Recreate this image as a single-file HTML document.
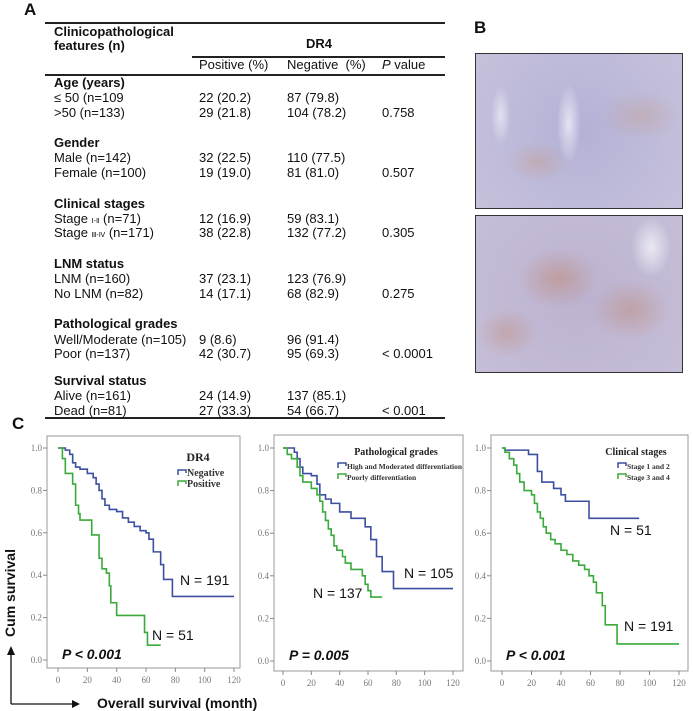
<!DOCTYPE html>
<html><head><meta charset="utf-8">
<style>
html,body{margin:0;padding:0;background:#fff;}
body{width:693px;height:711px;position:relative;overflow:hidden;font-family:"Liberation Sans",Arial,sans-serif;color:#111;}
.t{position:absolute;font-size:13px;line-height:14px;white-space:nowrap;transform:translateY(-7px);}
.b{font-weight:bold;}
.hl{position:absolute;height:2px;background:#222;}
.pl{position:absolute;font-weight:bold;font-size:17px;}
.img{position:absolute;border:1.5px solid #333;box-sizing:border-box;}
</style></head><body>
<div class="pl" style="left:24px;top:0px">A</div>
<div class="pl" style="left:474px;top:18px">B</div>
<div class="pl" style="left:12px;top:414px">C</div>

<div>
<div class="hl" style="left:45px;top:22px;width:400px"></div>
<div class="hl" style="left:192px;top:56px;width:253px"></div>
<div class="hl" style="left:45px;top:74px;width:400px"></div>
<div class="hl" style="left:45px;top:417px;width:400px"></div>
<div class="t b" style="left:54px;top:32px">Clinicopathological</div>
<div class="t b" style="left:54px;top:46px">features (n)</div>
<div class="t b" style="left:306px;top:44px">DR4</div>
<div class="t" style="left:199px;top:65px">Positive (%)</div>
<div class="t" style="left:287px;top:65px">Negative&nbsp; (%)</div>
<div class="t" style="left:382px;top:65px"><i>P</i> value</div>

<div class="t b" style="left:54px;top:83px">Age (years)</div>
<div class="t" style="left:54px;top:98px">≤ 50 (n=109</div><div class="t" style="left:199px;top:98px">22 (20.2)</div><div class="t" style="left:287px;top:98px">87 (79.8)</div>
<div class="t" style="left:54px;top:113px">&gt;50 (n=133)</div><div class="t" style="left:199px;top:113px">29 (21.8)</div><div class="t" style="left:287px;top:113px">104 (78.2)</div><div class="t" style="left:382px;top:113px">0.758</div>

<div class="t b" style="left:54px;top:143px">Gender</div>
<div class="t" style="left:54px;top:158px">Male (n=142)</div><div class="t" style="left:199px;top:158px">32 (22.5)</div><div class="t" style="left:287px;top:158px">110 (77.5)</div>
<div class="t" style="left:54px;top:173px">Female (n=100)</div><div class="t" style="left:199px;top:173px">19 (19.0)</div><div class="t" style="left:287px;top:173px">81 (81.0)</div><div class="t" style="left:382px;top:173px">0.507</div>

<div class="t b" style="left:54px;top:204px">Clinical stages</div>
<div class="t" style="left:54px;top:219px">Stage <span style="font-size:7px">Ⅰ-Ⅱ</span> (n=71)</div><div class="t" style="left:199px;top:219px">12 (16.9)</div><div class="t" style="left:287px;top:219px">59 (83.1)</div>
<div class="t" style="left:54px;top:233px">Stage <span style="font-size:7px">Ⅲ-Ⅳ</span> (n=171)</div><div class="t" style="left:199px;top:233px">38 (22.8)</div><div class="t" style="left:287px;top:233px">132 (77.2)</div><div class="t" style="left:382px;top:233px">0.305</div>

<div class="t b" style="left:54px;top:264px">LNM status</div>
<div class="t" style="left:54px;top:279px">LNM (n=160)</div><div class="t" style="left:199px;top:279px">37 (23.1)</div><div class="t" style="left:287px;top:279px">123 (76.9)</div>
<div class="t" style="left:54px;top:294px">No LNM (n=82)</div><div class="t" style="left:199px;top:294px">14 (17.1)</div><div class="t" style="left:287px;top:294px">68 (82.9)</div><div class="t" style="left:382px;top:294px">0.275</div>

<div class="t b" style="left:54px;top:324px">Pathological grades</div>
<div class="t" style="left:54px;top:340px">Well/Moderate (n=105)</div><div class="t" style="left:199px;top:340px">9 (8.6)</div><div class="t" style="left:287px;top:340px">96 (91.4)</div>
<div class="t" style="left:54px;top:354px">Poor (n=137)</div><div class="t" style="left:199px;top:354px">42 (30.7)</div><div class="t" style="left:287px;top:354px">95 (69.3)</div><div class="t" style="left:382px;top:354px">&lt; 0.0001</div>

<div class="t b" style="left:54px;top:381px">Survival status</div>
<div class="t" style="left:54px;top:396px">Alive (n=161)</div><div class="t" style="left:199px;top:396px">24 (14.9)</div><div class="t" style="left:287px;top:396px">137 (85.1)</div>
<div class="t" style="left:54px;top:411px">Dead (n=81)</div><div class="t" style="left:199px;top:411px">27 (33.3)</div><div class="t" style="left:287px;top:411px">54 (66.7)</div><div class="t" style="left:382px;top:411px">&lt; 0.001</div>
</div>

<div class="img" style="left:475px;top:53px;width:208px;height:156px;background:
radial-gradient(ellipse 30px 20px at 30% 70%,rgba(200,150,120,.35),transparent),
radial-gradient(ellipse 40px 25px at 80% 40%,rgba(200,150,120,.3),transparent),
radial-gradient(ellipse 12px 40px at 45% 45%,rgba(240,240,250,.8),transparent),
radial-gradient(ellipse 10px 30px at 12% 40%,rgba(240,240,250,.7),transparent),
radial-gradient(circle at 50% 50%,#b4b1d6,#c6c2dc);"></div>
<div class="img" style="left:475px;top:215px;width:208px;height:158px;background:
radial-gradient(ellipse 40px 30px at 40% 40%,rgba(190,130,100,.45),transparent),
radial-gradient(ellipse 40px 30px at 75% 60%,rgba(190,130,100,.4),transparent),
radial-gradient(ellipse 30px 25px at 15% 75%,rgba(190,130,100,.35),transparent),
radial-gradient(ellipse 20px 30px at 85% 20%,rgba(245,245,250,.8),transparent),
radial-gradient(circle at 50% 50%,#bcb2d0,#c6bed8);"></div>

<svg id="km" width="693" height="711" style="position:absolute;left:0;top:0"></svg>

<script>
// Chart 1: DR4
const c1NegT=[0,5,8,10,12,15,20,24,26,28,30,32,35,40,44,48,52,56,60,62,65,70,72,78,120];
const c1NegS=[1,0.99,0.97,0.93,0.91,0.90,0.88,0.86,0.83,0.80,0.76,0.73,0.71,0.70,0.67,0.65,0.63,0.61,0.60,0.57,0.51,0.45,0.38,0.30,0.30];
const c1PosT=[0,3,5,10,12,14,15,23,28,30,33,35,36,40,59,61,70];
const c1PosS=[1,0.95,0.88,0.83,0.73,0.69,0.66,0.59,0.48,0.43,0.41,0.35,0.27,0.21,0.13,0.07,0.07];
// Chart 2: Pathological grades
const c2HighT=[0,8,10,12,14,20,24,26,30,34,40,48,58,62,66,70,78,120];
const c2HighS=[1,0.98,0.95,0.91,0.88,0.87,0.83,0.78,0.76,0.74,0.70,0.67,0.63,0.57,0.49,0.42,0.34,0.34];
const c2PoorT=[0,3,6,10,12,14,20,24,26,28,30,32,34,36,38,42,44,48,56,58,60,62,70];
const c2PoorS=[1,0.97,0.95,0.91,0.87,0.84,0.81,0.78,0.75,0.70,0.66,0.62,0.59,0.54,0.52,0.49,0.46,0.43,0.40,0.36,0.33,0.30,0.30];
// Chart 3: Clinical stages
const c3EarlyT=[0,2,18,24,27,35,40,43,59,93];
const c3EarlyS=[1,0.99,0.97,0.89,0.84,0.81,0.78,0.75,0.67,0.67];
const c3LateT=[0,2,5,8,10,12,15,20,22,24,26,28,30,33,36,40,44,48,52,56,59,62,64,68,70,78,120];
const c3LateS=[1,0.98,0.95,0.92,0.88,0.84,0.80,0.78,0.74,0.70,0.67,0.63,0.60,0.57,0.55,0.52,0.50,0.47,0.45,0.43,0.40,0.37,0.32,0.26,0.17,0.08,0.08];
const xTicks=[0,20,40,60,80,100,120];
const yTicks=[0,0.2,0.4,0.6,0.8,1.0];

const svg=document.getElementById('km');
const NS='http://www.w3.org/2000/svg';
function el(tag,attrs,parent){const e=document.createElementNS(NS,tag);for(const k in attrs)e.setAttribute(k,attrs[k]);(parent||svg).appendChild(e);return e;}
function txt(s,attrs,parent){const e=el('text',attrs,parent);e.textContent=s;return e;}

function chart(cfg){
  const g=el('g',{});
  
  
  const sx=t=>cfg.x0+(cfg.x1-cfg.x0)*t/120;
  const sy=s=>cfg.y0+(cfg.y1-cfg.y0)*s;
  const box=el('rect',{x:cfg.bx,y:cfg.by,width:cfg.bw,height:cfg.bh,fill:'#fff',stroke:'#999','stroke-width':1},g);
  
  
  xTicks.forEach(t=>{
    el('line',{x1:sx(t),x2:sx(t),y1:cfg.by+cfg.bh,y2:cfg.by+cfg.bh+4,stroke:'#888'},g);
    const l=txt(t,{x:sx(t),y:cfg.by+cfg.bh+15,'font-size':9,'text-anchor':'middle',fill:'#777','font-family':'"Liberation Serif",serif'},g);
    
    
  });
  yTicks.forEach(v=>{
    el('line',{x1:cfg.bx-4,x2:cfg.bx,y1:sy(v),y2:sy(v),stroke:'#888'},g);
    const l=txt(v.toFixed(1),{x:cfg.bx-5,y:sy(v)+3,'font-size':9,'text-anchor':'end',fill:'#777','font-family':'"Liberation Serif",serif'},g);
    
    
  });
  cfg.series.forEach(s=>{
    let d='M'+sx(s.t[0])+','+sy(s.s[0]);
    for(let i=1;i<s.t.length;i++){d+=' H'+sx(s.t[i])+' V'+sy(s.s[i]);}
    const p=el('path',{d:d,fill:'none',stroke:s.color,'stroke-width':1.6},g);
    
    
    const n=txt(s.label,{x:s.lx,y:s.ly,'font-size':14,fill:'#111','font-family':'"Liberation Sans",sans-serif'},g);
    
    
  });
  const tt=txt(cfg.title,{x:cfg.tx,y:cfg.ty,'font-size':cfg.tfs,'font-weight':'bold','text-anchor':'middle',fill:'#222','font-family':'"Liberation Serif",serif'},g);
  
  
  cfg.series.forEach((s,i)=>{
    const y=cfg.ly+i*11;
    el('path',{d:`M${cfg.lx},${y+2} V${y-3} H${cfg.lx+8} V${y}`,fill:'none',stroke:s.color,'stroke-width':1.5},g);
    const l=txt(s.legend,{x:cfg.lx+9,y:y+3,'font-size':cfg.lfs,'font-weight':'bold',fill:'#333','font-family':'"Liberation Serif",serif'},g);
    
    
  });
  const p=txt(cfg.p,{x:cfg.bx+15,y:cfg.y0-1,'font-size':14,'font-weight':'bold','font-style':'italic',fill:'#111','font-family':'"Liberation Sans",sans-serif'},g);
  
  
}
const BLUE='#3c4fa0',GREEN='#3aaa3a';
chart({name:'chart-dr4',bx:47,by:436,bw:193,bh:232,x0:58,x1:234,y0:660,y1:448,title:'DR4',tx:198,ty:461,tfs:12,lx:178,ly:473,lfs:10,p:'P < 0.001',
  series:[{t:c1NegT,s:c1NegS,color:BLUE,name:'line-negative',legend:'Negative',label:'N = 191',lx:180,ly:585},
          {t:c1PosT,s:c1PosS,color:GREEN,name:'line-positive',legend:'Positive',label:'N = 51',lx:152,ly:640}]});
chart({name:'chart-pathological-grades',bx:274,by:435,bw:189,bh:236,x0:283,x1:453,y0:661,y1:448,title:'Pathological grades',tx:396,ty:455,tfs:10,lx:338,ly:466,lfs:7.5,p:'P = 0.005',
  series:[{t:c2HighT,s:c2HighS,color:BLUE,name:'line-high-moderate',legend:'High and Moderated differentiation',label:'N = 105',lx:404,ly:578},
          {t:c2PoorT,s:c2PoorS,color:GREEN,name:'line-poorly',legend:'Poorly differentiation',label:'N = 137',lx:313,ly:598}]});
chart({name:'chart-clinical-stages',bx:491,by:435,bw:197,bh:236,x0:502,x1:679,y0:661,y1:448,title:'Clinical stages',tx:636,ty:455,tfs:10,lx:618,ly:466,lfs:7.5,p:'P < 0.001',
  series:[{t:c3EarlyT,s:c3EarlyS,color:BLUE,name:'line-stage-1-2',legend:'Stage 1 and 2',label:'N = 51',lx:610,ly:535},
          {t:c3LateT,s:c3LateS,color:GREEN,name:'line-stage-3-4',legend:'Stage 3 and 4',label:'N = 191',lx:624,ly:631}]});

const a1=el('path',{d:'M11,704 V652',stroke:'#111','stroke-width':1.3,fill:'none'});


el('path',{d:'M7,655 L11,646 L15,655 Z',fill:'#111'});
const a2=el('path',{d:'M11,704 H74',stroke:'#111','stroke-width':1.3,fill:'none'});


el('path',{d:'M72,700 L80,704 L72,708 Z',fill:'#111'});
const yl=txt('Cum survival',{x:0,y:0,'font-size':14,'font-weight':'bold','text-anchor':'middle',fill:'#111',transform:'translate(15,593) rotate(-90)','font-family':'"Liberation Sans",sans-serif'});


const xl=txt('Overall survival (month)',{x:97,y:708,'font-size':14,'font-weight':'bold',fill:'#111','font-family':'"Liberation Sans",sans-serif'});


</script>
</body></html>
